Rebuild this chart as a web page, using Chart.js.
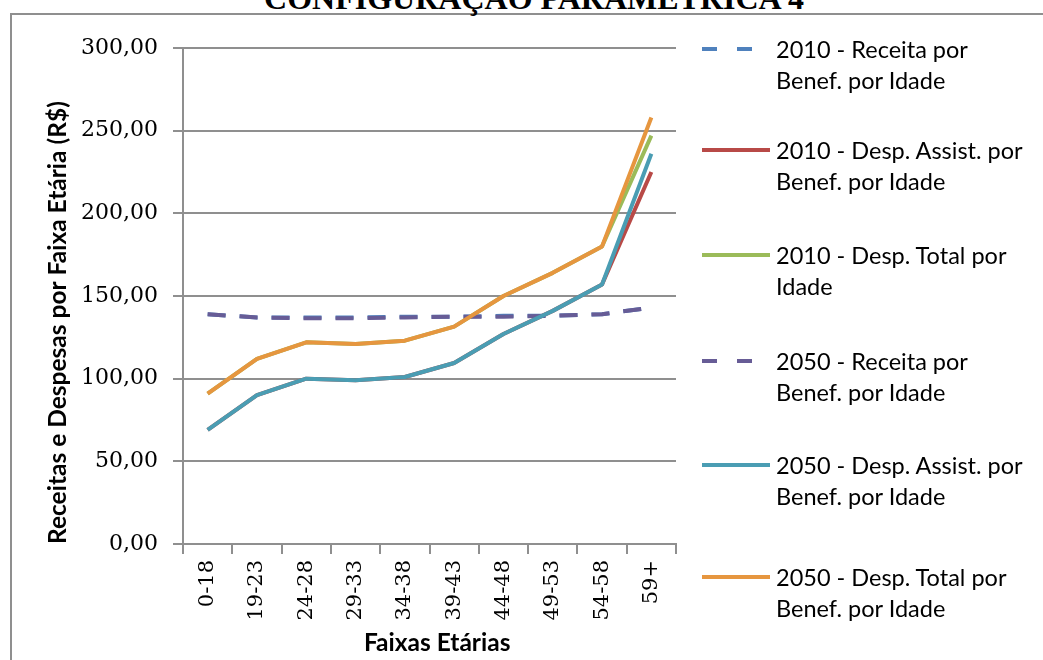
<!DOCTYPE html>
<html>
<head>
<meta charset="utf-8">
<script src="https://cdn.jsdelivr.net/npm/chart.js@4"></script>
<style>
    body { margin: 0; background: #fff; overflow: hidden; }
    #page { position: relative; width: 1043px; height: 660px; }
    #frame {
        position: absolute; left: 10px; top: 13px; width: 1100px; height: 700px;
        border-left: 2px solid #8f8f8f; border-top: 2px solid #8f8f8f;
    }
    #title {
        position: absolute; left: 0; width: 1068px; top: -18px; text-align: center;
        font: bold 32px "Liberation Serif", serif; line-height: 32px; color: #000;
    }
    #chart { position: absolute; left: 0; top: 0; }
    .leg-text {
        position: absolute; left: 776px; font: 23.5px Lato, sans-serif; line-height: 31px;
        color: #000; white-space: nowrap;
    }
    .leg-line { position: absolute; left: 700px; }
</style>
</head>
<body>
<div id="page">
    <div id="frame"></div>
    <div id="title">CONFIGURAÇÃO PARAMÉTRICA 4</div>
    <canvas id="chart" width="1043" height="660"></canvas>
    <div id="legend"></div>
</div>
<script>
// Data
const faixas = ['0-18', '19-23', '24-28', '29-33', '34-38', '39-43', '44-48', '49-53', '54-58', '59+'];
const receita2010 = [139, 137, 137, 137, 137.5, 137.5, 138, 138, 139, 143];
const despAssist2010 = [69, 90, 100, 99, 101, 109.5, 127, 141, 157, 225];
const despTotal2010 = [91, 112, 122, 121, 123, 131.5, 150, 164, 180, 247];
const receita2050 = [139, 137, 136.5, 136.5, 137, 137.5, 137.5, 138, 139, 143];
const despAssist2050 = [69, 90, 100, 99, 101, 109.5, 127, 141, 157, 236];
const despTotal2050 = [91, 112, 122, 121, 123, 131.5, 150, 164, 180, 258];
const seriesLabels = [
    ['2010 - Receita por', 'Benef. por Idade'],
    ['2010 - Desp. Assist. por', 'Benef. por Idade'],
    ['2010 - Desp. Total por', 'Idade'],
    ['2050 - Receita por', 'Benef. por Idade'],
    ['2050 - Desp. Assist. por', 'Benef. por Idade'],
    ['2050 - Desp. Total por', 'Benef. por Idade']
];
const yTicks = [0, 50, 100, 150, 200, 250, 300];

const seriesData = [receita2010, despAssist2010, despTotal2010, receita2050, despAssist2050, despTotal2050];
const colors = ['#4F81BD', '#B84A47', '#9BBB59', '#675C96', '#4A9DB3', '#E6963F'];
const dashed = [true, false, false, true, false, false];

const GRID = '#8f8f8f';

const datasets = seriesData.map((d, i) => ({
    label: seriesLabels[i].join(' '),
    data: d,
    borderColor: colors[i],
    backgroundColor: colors[i],
    borderWidth: 4,
    borderDash: dashed[i] ? [18, 14] : [],
    borderJoinStyle: 'round',
    pointRadius: 0,
    tension: 0,
    fill: false,
    order: seriesData.length - i   // later series on top, like Excel
}));

new Chart(document.getElementById('chart'), {
    type: 'line',
    data: { labels: faixas, datasets: datasets },
    options: {
        responsive: false,
        animation: false,
        devicePixelRatio: 1,
        layout: { padding: { left: 0, top: 48, right: 367, bottom: 0 } },
        plugins: { legend: { display: false }, tooltip: { enabled: false } },
        scales: {
            x: {
                offset: true,
                grid: { offset: true, drawOnChartArea: false, drawTicks: true, tickLength: 10, color: GRID, lineWidth: 2 },
                border: { color: GRID, width: 2 },
                ticks: {
                    minRotation: 90, maxRotation: 90, padding: 6, color: '#000',
                    font: { family: 'DejaVu Serif', size: 21 }
                },
                title: {
                    display: true, text: '\u2002\u2009Faixas Etárias', color: '#000',
                    font: { family: 'Lato', size: 24.5, weight: 'bold' },
                    padding: { top: 0, bottom: 2 }
                },
                afterFit: s => { s.height = 116; }
            },
            y: {
                min: 0, max: 300,
                afterBuildTicks: s => { s.ticks = yTicks.map(v => ({ value: v })); },
                grid: { color: GRID, lineWidth: 2, tickLength: 10 },
                border: { color: GRID, width: 2 },
                ticks: {
                    padding: 15, color: '#000',
                    font: { family: 'DejaVu Serif', size: 22 },
                    callback: v => v.toFixed(2).replace('.', ',')
                },
                title: {
                    display: true, text: 'Receitas e Despesas por Faixa Etária (R$)', color: '#000',
                    align: 'start',
                    font: { family: 'Lato', size: 24.5, weight: 'bold' },
                    padding: { top: 43, bottom: 0 }
                },
                afterFit: s => { s.width = 183; }
            }
        }
    }
});

// Legend (HTML, built from the dataset labels/colours)
const legendFirstLineY = [49, 150, 255, 361, 465, 577];
const legend = document.getElementById('legend');
seriesLabels.forEach((lines, i) => {
    const y = legendFirstLineY[i];
    const svg = document.createElementNS('http://www.w3.org/2000/svg', 'svg');
    svg.setAttribute('class', 'leg-line');
    svg.setAttribute('width', '74');
    svg.setAttribute('height', '10');
    svg.style.top = (y - 5) + 'px';
    const ln = document.createElementNS('http://www.w3.org/2000/svg', 'line');
    ln.setAttribute('x1', '2'); ln.setAttribute('x2', '70');
    ln.setAttribute('y1', '5'); ln.setAttribute('y2', '5');
    ln.setAttribute('stroke', colors[i]);
    ln.setAttribute('stroke-width', '4');
    if (dashed[i]) ln.setAttribute('stroke-dasharray', '15 20');
    svg.appendChild(ln);
    legend.appendChild(svg);

    const t = document.createElement('div');
    t.className = 'leg-text';
    t.style.top = (y - 15.5) + 'px';
    t.innerHTML = lines.join('<br>');
    legend.appendChild(t);
});
</script>
</body>
</html>
